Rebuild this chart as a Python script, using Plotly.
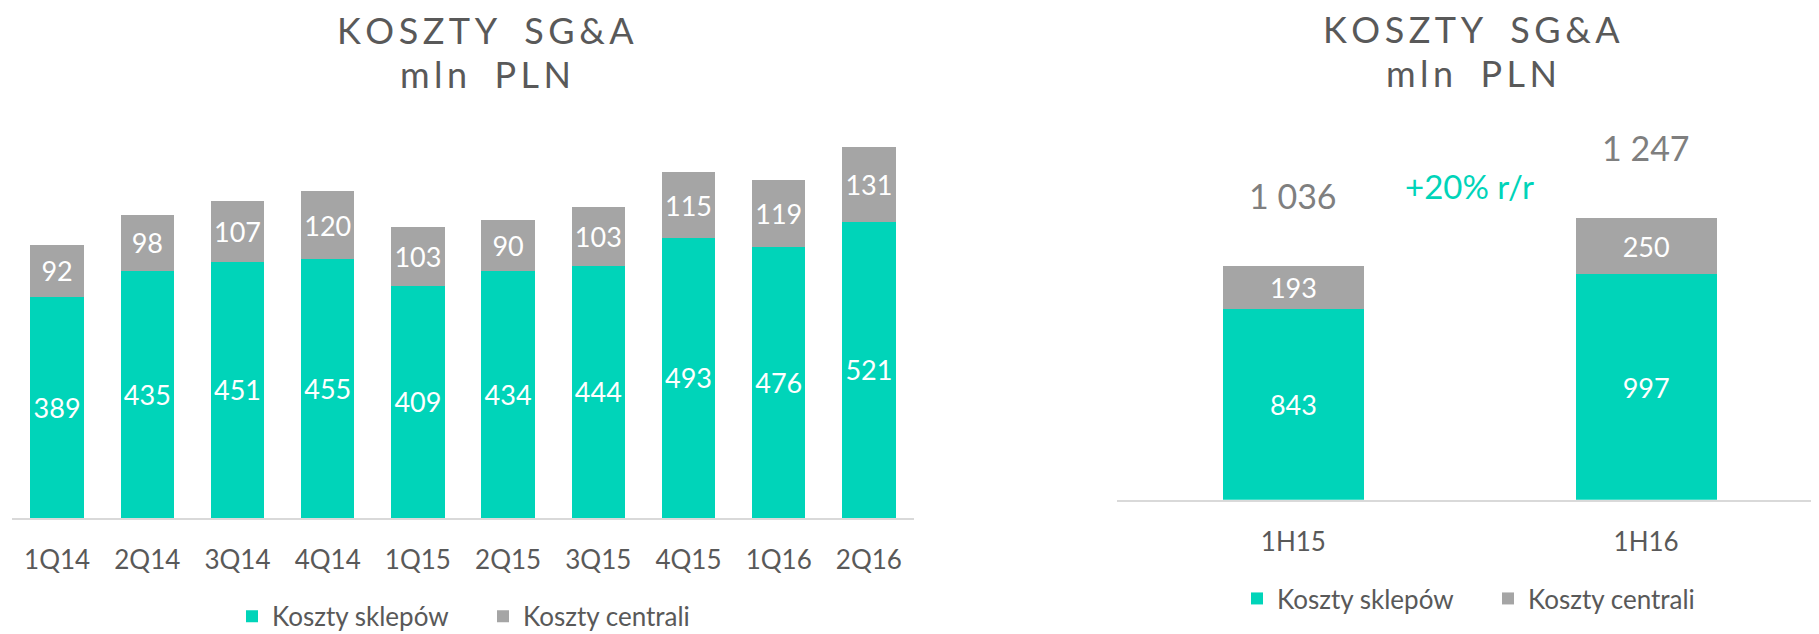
import plotly.graph_objects as go

# ---- data ----
quarters = ["1Q14", "2Q14", "3Q14", "4Q14", "1Q15", "2Q15", "3Q15", "4Q15", "1Q16", "2Q16"]
q_sklepy = [389, 435, 451, 455, 409, 434, 444, 493, 476, 521]
q_centrala = [92, 98, 107, 120, 103, 90, 103, 115, 119, 131]

halves = ["1H15", "1H16"]
h_sklepy = [843, 997]
h_centrala = [193, 250]

series_names = ["Koszty sklepów", "Koszty centrali"]
title_text = "KOSZTY SG&A"
subtitle_text = "mln PLN"

TEAL = "#00D4B9"
GREY = "#A5A5A5"
DARK = "#595959"
FONT = "Lato"

# offset of the figure inside the page; map target page pixels to paper fractions
OX, OY = 8, 2
W, H = 1819 - OX, 634 - OY


def px(x):
    return (x - OX) / W


def py(y):
    return 1 - (y - OY) / H


h_totals = [a + b for a, b in zip(h_sklepy, h_centrala)]
growth = h_totals[1] / h_totals[0] - 1


def spaced(s):
    return "\u2009".join(list(s)).replace("\u2009 \u2009", "\u2009\u2009 \u2009\u2009")


def fmt_thousands(v):
    return f"{v:,}".replace(",", " ")


fig = go.Figure()

bar_common = dict(
    textposition="inside",
    insidetextanchor="middle",
    textangle=0,
    textfont=dict(color="white", size=27, family=FONT),
    marker_line_width=0,
    hoverinfo="skip",
)

fig.add_trace(go.Bar(x=quarters, y=q_sklepy, name=series_names[0], marker_color=TEAL,
                     text=[str(v) for v in q_sklepy], xaxis="x", yaxis="y",
                     width=0.59, legend="legend", **bar_common))
fig.add_trace(go.Bar(x=quarters, y=q_centrala, name=series_names[1], marker_color=GREY,
                     text=[str(v) for v in q_centrala], xaxis="x", yaxis="y",
                     width=0.59, legend="legend", **bar_common))
fig.add_trace(go.Bar(x=halves, y=h_sklepy, name=series_names[0], marker_color=TEAL,
                     text=[str(v) for v in h_sklepy], xaxis="x2", yaxis="y2",
                     width=0.40, legend="legend2", **bar_common))
fig.add_trace(go.Bar(x=halves, y=h_centrala, name=series_names[1], marker_color=GREY,
                     text=[str(v) for v in h_centrala], xaxis="x2", yaxis="y2",
                     width=0.40, legend="legend2", **bar_common))

axis_x = dict(showgrid=False, zeroline=False, showline=True, linecolor="#D9D9D9",
              linewidth=2, ticks="", tickfont=dict(size=26, color=DARK, family=FONT),
              ticklabelstandoff=18, fixedrange=True)
axis_y = dict(visible=False, showgrid=False, zeroline=False, fixedrange=True)

annotations = []
for xc, yc, txt in [(485, 24.5, title_text), (485, 69, subtitle_text),
                    (1471, 23.5, title_text), (1471, 68, subtitle_text)]:
    annotations.append(dict(x=px(xc), y=py(yc), xref="paper", yref="paper",
                            text=spaced(txt), showarrow=False, xanchor="center", yanchor="middle",
                            borderpad=0, font=dict(size=36, color=DARK, family=FONT)))
for cat, tot in zip(halves, h_totals):
    annotations.append(dict(x=cat, y=tot, xref="x2", yref="y2", text=fmt_thousands(tot),
                            showarrow=False, yanchor="bottom", yshift=48,
                            font=dict(size=34, color="#7F7F7F", family=FONT)))
annotations.append(dict(x=0.5, y=py(183), xref="x2", yref="paper",
                        text=f"+{round(growth * 100)}% r/r", showarrow=False,
                        xanchor="center", yanchor="middle",
                        font=dict(size=33, color=TEAL, family=FONT)))

legend_common = dict(orientation="h", xanchor="left", yanchor="middle", traceorder="normal",
                     font=dict(size=26, color=DARK, family=FONT), entrywidth=206,
                     entrywidthmode="pixels", bgcolor="rgba(0,0,0,0)",
                     itemclick=False, itemdoubleclick=False)

fig.update_layout(
    width=W, height=H,
    margin=dict(l=0, r=0, t=0, b=0),
    paper_bgcolor="white", plot_bgcolor="white",
    barmode="stack",
    font=dict(family=FONT, color=DARK),
    uniformtext=dict(minsize=27, mode="show"),
    xaxis=dict(domain=[px(12), px(914)], range=[-0.5, 9.5], anchor="y", **axis_x),
    yaxis=dict(domain=[py(521), py(100)], range=[0, 728], anchor="x", **axis_y),
    xaxis2=dict(domain=[px(1117), 1.0], range=[-0.5, 1.49], anchor="y2", **axis_x),
    yaxis2=dict(domain=[py(502.5), py(100)], range=[0, 1749], anchor="x2", **axis_y),
    legend=dict(x=px(232), y=py(621), **legend_common),
    legend2=dict(x=px(1237), y=py(603), **legend_common),
    annotations=annotations,
    showlegend=True,
)

fig.write_html("out.html", config={"displayModeBar": False})
